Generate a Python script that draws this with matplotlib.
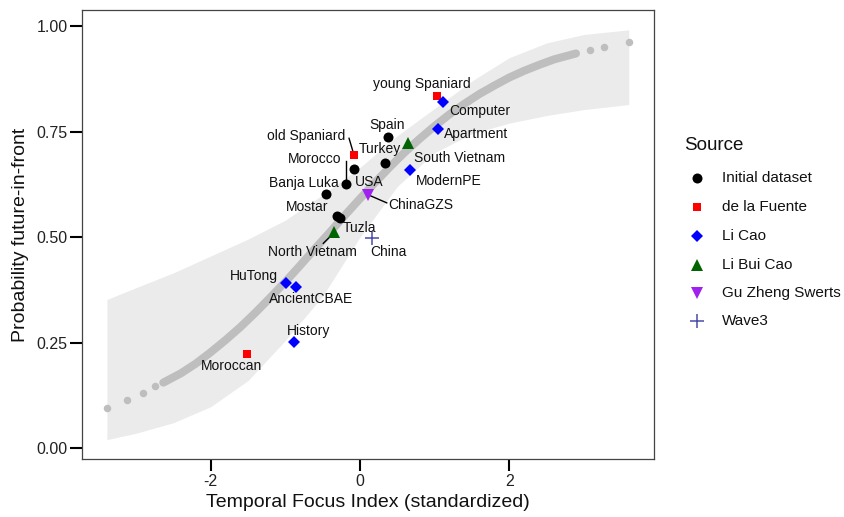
import matplotlib
matplotlib.use("Agg")
import matplotlib.pyplot as plt

plt.rcParams['font.family'] = ['Liberation Sans', 'DejaVu Sans']

# ---------------- data ----------------
sources = ["Initial dataset", "de la Fuente", "Li Cao", "Li Bui Cao", "Gu Zheng Swerts", "Wave3"]

initial_names = ["Spain", "Turkey", "USA", "Morocco", "Banja Luka", "Mostar", "Tuzla"]
initial_x = [0.371, 0.331, -0.076, -0.192, -0.455, -0.312, -0.268]
initial_y = [0.738, 0.676, 0.662, 0.625, 0.602, 0.550, 0.544]

fuente_names = ["young Spaniard", "old Spaniard", "Moroccan"]
fuente_x = [1.036, -0.080, -1.518]
fuente_y = [0.835, 0.694, 0.224]

licao_names = ["Computer", "Apartment", "ModernPE", "HuTong", "AncientCBAE", "History"]
licao_x = [1.116, 1.041, 0.670, -0.991, -0.857, -0.880]
licao_y = [0.821, 0.755, 0.659, 0.390, 0.382, 0.251]

libuicao_names = ["South Vietnam", "North Vietnam"]
libuicao_x = [0.639, -0.344]
libuicao_y = [0.723, 0.511]

gzs_names = ["ChinaGZS"]
gzs_x = [0.111]
gzs_y = [0.600]

wave3_names = ["China"]
wave3_x = [0.165]
wave3_y = [0.497]

# fitted probabilities (grey): isolated fitted dots and the dense fitted run
fit_dot_x = [-3.39, -3.117, -2.911, -2.746, 3.081, 3.273, 3.603]
fit_dot_y = [0.094, 0.113, 0.131, 0.147, 0.943, 0.950, 0.961]
fit_run_x = [-2.635, -2.4, -2.2, -2.0, -1.8, -1.6, -1.4, -1.2, -1.0, -0.8, -0.6, -0.4, -0.2, 0.0,
             0.2, 0.4, 0.6, 0.8, 1.0, 1.2, 1.4, 1.6, 1.8, 2.0, 2.2, 2.4, 2.6, 2.893]
fit_run_y = [0.155, 0.177, 0.200, 0.227, 0.256, 0.287, 0.321, 0.357, 0.394, 0.433, 0.473, 0.512, 0.552, 0.591,
             0.629, 0.666, 0.701, 0.733, 0.763, 0.791, 0.816, 0.839, 0.859, 0.878, 0.894, 0.908, 0.921, 0.935]

# confidence band
band_x = [-3.39, -3.0, -2.5, -2.0, -1.5, -1.0, -0.5, 0.0, 0.5, 1.0, 1.5, 2.0, 2.5, 3.0, 3.6]
band_lo = [0.020, 0.035, 0.060, 0.098, 0.160, 0.255, 0.360, 0.500, 0.620, 0.700, 0.745, 0.770, 0.788, 0.802, 0.814]
band_hi = [0.352, 0.380, 0.415, 0.455, 0.495, 0.540, 0.600, 0.665, 0.740, 0.805, 0.870, 0.925, 0.960, 0.980, 0.991]

x_ticks = [-2, 0, 2]
y_ticks = [0.00, 0.25, 0.50, 0.75, 1.00]
y_ticklabels = ["0.00", "0.25", "0.50", "0.75", "1.00"]

# ---------------- styles / layout ----------------
styles = {
    "Initial dataset": dict(marker='o', color='black', ms=7.2),
    "de la Fuente": dict(marker='s', color='#FF0000', ms=6.3),
    "Li Cao": dict(marker='D', color='#0000FF', ms=6.3),
    "Li Bui Cao": dict(marker='^', color='#006400', ms=8),
    "Gu Zheng Swerts": dict(marker='v', color='#A020F0', ms=8),
    "Wave3": dict(marker='+', color='#4B4BAA', ms=10, mew=1.1),
}

label_pos = {
    "young Spaniard": (0.831, 0.862), "Computer": (1.608, 0.799), "Apartment": (1.554, 0.744),
    "Spain": (0.362, 0.765), "old Spaniard": (-0.723, 0.739), "Turkey": (0.268, 0.709),
    "South Vietnam": (1.340, 0.687), "Morocco": (-0.603, 0.685), "ModernPE": (1.192, 0.633),
    "USA": (0.121, 0.630), "Banja Luka": (-0.750, 0.628), "ChinaGZS": (0.817, 0.576),
    "Mostar": (-0.710, 0.571), "Tuzla": (-0.013, 0.521), "North Vietnam": (-0.643, 0.464),
    "China": (0.375, 0.464), "HuTong": (-1.420, 0.408), "AncientCBAE": (-0.656, 0.353),
    "History": (-0.683, 0.277), "Moroccan": (-1.728, 0.194),
}
segment_start = {
    "old Spaniard": (-0.147, 0.734), "Morocco": (-0.192, 0.681),
    "ChinaGZS": (0.358, 0.581), "North Vietnam": (-0.492, 0.485),
}

W, H = 845, 517
fig = plt.figure(figsize=(W / 100, H / 100), dpi=100)
ax = fig.add_axes([82 / W, 1 - 459 / H, (654 - 82) / W, (459 - 10) / H])

ax.fill_between(band_x, band_lo, band_hi, color='#EBEBEB', lw=0, zorder=1)
ax.plot(fit_run_x, fit_run_y, color='#BEBEBE', lw=5.8, solid_capstyle='round', zorder=2)
ax.plot(fit_dot_x, fit_dot_y, 'o', color='#BEBEBE', ms=5.4, mew=0, zorder=2)

groups = [
    ("Initial dataset", initial_names, initial_x, initial_y),
    ("de la Fuente", fuente_names, fuente_x, fuente_y),
    ("Li Cao", licao_names, licao_x, licao_y),
    ("Li Bui Cao", libuicao_names, libuicao_x, libuicao_y),
    ("Gu Zheng Swerts", gzs_names, gzs_x, gzs_y),
    ("Wave3", wave3_names, wave3_x, wave3_y),
]

for src, names, xs, ys in groups:
    st = dict(styles[src])
    mew = st.pop('mew', 0)
    ax.plot(xs, ys, ls='none', mec=st['color'], mew=mew, zorder=4, **st)
    for n, x, y in zip(names, xs, ys):
        lx, ly = label_pos[n]
        if n in segment_start:
            sx, sy = segment_start[n]
            ax.plot([sx, x], [sy, y], color='black', lw=1.0, zorder=3)
        ax.text(lx, ly, n, fontsize=10, ha='center', va='center', color='#111111', zorder=5)

ax.set_xlim(-3.724, 3.938)
ax.set_ylim(-0.026, 1.038)
ax.set_xticks(x_ticks)
ax.set_xticklabels([str(t) for t in x_ticks])
ax.set_yticks(y_ticks)
ax.set_yticklabels(y_ticklabels)
ax.tick_params(length=8.5, width=1.5, color='black', labelsize=11.5, labelcolor='#222222', pad=2)
for s in ax.spines.values():
    s.set_color('#444444')
    s.set_linewidth(0.9)
ax.set_xlabel("Temporal Focus Index (standardized)", fontsize=14, color='#111111', labelpad=4)
ax.set_ylabel("Probability future-in-front", fontsize=14, color='#111111', labelpad=5)

# legend (drawn in figure pixel space)
lax = fig.add_axes([0, 0, 1, 1])
lax.set_xlim(0, W)
lax.set_ylim(H, 0)
lax.axis('off')
lax.text(684, 146, "Source", fontsize=13.5, ha='left', va='center', color='#111111')
leg_y = [178, 207, 236, 265, 293, 321]
for src, yy in zip(sources, leg_y):
    st = dict(styles[src])
    mew = st.pop('mew', 0)
    lax.plot([697], [yy], ls='none', mec=st['color'], mew=mew, **st)
    lax.text(722, yy, src, fontsize=11, ha='left', va='center', color='#111111')

fig.savefig("out.png", dpi=100)
